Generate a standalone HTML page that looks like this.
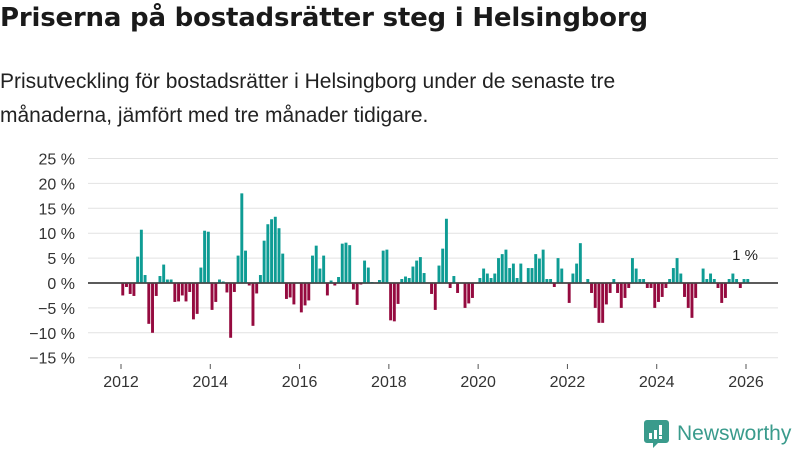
<!DOCTYPE html>
<html><head><meta charset="utf-8">
<style>
body{margin:0;background:#fff;font-family:"Liberation Sans","DejaVu Sans",sans-serif;color:#222}
#root{position:relative;width:800px;height:450px;overflow:hidden}
h1{position:absolute;left:0;top:3px;margin:0;font-family:"DejaVu Sans",sans-serif;font-size:26px;font-weight:bold;color:#1a1a1a;white-space:nowrap;letter-spacing:-0.2px}
.sub{position:absolute;left:0;top:65px;margin:0;font-size:21px;line-height:34px;color:#222;width:620px}
.logo{position:absolute;left:644px;top:420px;display:flex;align-items:center;gap:8px;color:#3a9b8c;font-size:21px}
</style></head><body>
<div id="root">
<h1>Priserna på bostadsrätter steg i Helsingborg</h1>
<p class="sub">Prisutveckling för bostadsrätter i Helsingborg under de senaste tre månaderna, jämfört med tre månader tidigare.</p>
<svg id="chart" width="800" height="450" style="position:absolute;left:0;top:0"></svg>
<div class="logo">
<svg width="25" height="28" viewBox="0 0 25 28"><path d="M3 0h19a3 3 0 0 1 3 3v17a3 3 0 0 1-3 3H14l-5 5v-5H3a3 3 0 0 1-3-3V3a3 3 0 0 1 3-3z" fill="#3a9b8c"/><rect x="5" y="13" width="3" height="6" fill="#fff"/><rect x="10" y="10" width="3" height="9" fill="#fff"/><rect x="15" y="5" width="3" height="10" fill="#fff"/><rect x="15" y="16" width="3" height="3" fill="#fff"/></svg>
<span>Newsworthy</span></div>
</div>
<script>
const values = [
-2.5,-0.8,-2.2,-2.6,5.3,10.7,1.6,-8.2,-10,-2.6,
1.4,3.7,0.7,0.7,-3.8,-3.7,-2.5,-3.7,-1.8,-7.3,
-6.2,3.1,10.5,10.3,-5.4,-3.8,0.7,0.3,-1.9,-11,
-1.8,5.5,18,6.5,-0.5,-8.6,-2.1,1.6,8.5,11.8,
12.8,13.3,11,5.9,-3.2,-2.9,-4.3,0,-5.9,-4.5,
-3.5,5.5,7.5,2.9,5.5,-2.5,0.5,
-0.5,1.2,7.9,8.1,7.6,-1.3,-4.4,-0.3,4.5,3.1,
0.2,0,0.6,6.5,6.7,-7.5,-7.7,-4.2,0.8,1.3,
1,3.3,4.5,5.2,2,0,-2.2,-5.4,3.5,6.9,
12.9,-1,1.4,-2,0,-5,-4.1,-3,0,1,
2.9,1.9,1,1.9,5,5.8,6.7,3,3.9,1,
3.9,0,3,3,5.8,4.9,6.7,0.8,0.8,
-0.8,5,2.9,0,-4,1.9,3.9,8,0,0.8,
-2,-5,-8,-8,-4.3,-2,0.8,-2,-5,-3,
-1,5,2.9,0.8,0.8,-1,-1,-5,-3.8,-2.8,
-1,0.8,3,5,1.9,-2.8,-5,-7,-3,0,
2.9,0.8,1.9,0.8,-1,-4,-3,0.8,1.9,0.8,
-1,0.8,0.8];
const startYear = 2012;
const yTicks = [25,20,15,10,5,0,-5,-10,-15];
const xTickYears = [2012,2014,2016,2018,2020,2022,2024,2026];
const lastLabel = "1 %";

const NS="http://www.w3.org/2000/svg";
const svg=document.getElementById('chart');
const x0=121, monthW=(746-121)/168;
function xScale(m){return x0+m*monthW;}
function yScale(v){return 283 - v*(124.5/25);}
function mk(t,a){const e=document.createElementNS(NS,t);for(const k in a)e.setAttribute(k,a[k]);svg.appendChild(e);return e;}
yTicks.forEach(v=>{
  const g=mk('line',{x1:88,x2:778,y1:yScale(v),y2:yScale(v),stroke:v===0?'#444':'#e2e2e2','stroke-width':v===0?1.6:1});
  
  
  const t=mk('text',{x:75,y:yScale(v)+6,'text-anchor':'end','font-size':16,fill:'#333','font-family':'Liberation Sans, sans-serif'});
  t.textContent=(v<0?'−'+(-v):v)+' %';
  
  
});
values.forEach((v,i)=>{
  const y=yScale(Math.max(v,0)), h=Math.abs(yScale(v)-yScale(0));
  const r=mk('rect',{x:xScale(i)+0.3,y:y,width:monthW-0.8,height:Math.max(h,0),fill:v>=0?'#0e9c94':'#950a3f'});
  
  
});
const z=mk('line',{x1:88,x2:778,y1:yScale(0),y2:yScale(0),stroke:'#444','stroke-width':1.6});


xTickYears.forEach(yr=>{
  const xx=xScale((yr-startYear)*12);
  const l=mk('line',{x1:xx,x2:xx,y1:364,y2:369,stroke:'#555'});
  
  
  const t=mk('text',{x:xx,y:387,'text-anchor':'middle','font-size':16,fill:'#333','font-family':'Liberation Sans, sans-serif'});
  t.textContent=yr;
  
  
});
const li=values.length-1;
const lab=mk('text',{x:xScale(li)-1,y:yScale(values[li])-19,'text-anchor':'middle','font-size':15,fill:'#222','font-family':'Liberation Sans, sans-serif',stroke:'#fff','stroke-width':3,'paint-order':'stroke'});
lab.textContent=lastLabel;


</script>
</body></html>
